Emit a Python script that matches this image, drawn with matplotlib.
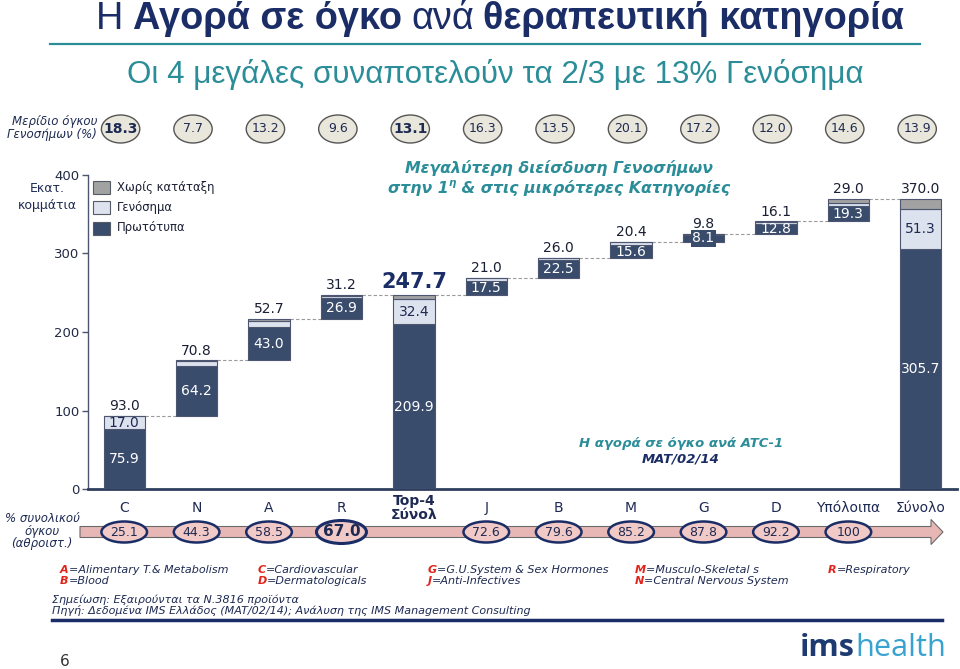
import matplotlib
matplotlib.use('Agg')
import matplotlib.pyplot as plt
from matplotlib.patches import Ellipse, Rectangle, FancyArrow
import matplotlib.transforms as mtransforms
import numpy as np

# ---------------- data ----------------
categories = ['C', 'N', 'A', 'R', 'Top-4\nΣύνολ', 'J', 'B', 'M', 'G', 'D', 'Υπόλοιπα', 'Σύνολο']
proto = [75.9, 64.2, 43.0, 26.9, 209.9, 17.5, 22.5, 15.6, 8.1, 12.8, 19.3, 305.7]
generic = [17.0, 5.5, 7.0, 3.0, 32.4, 3.4, 3.5, 4.1, 1.7, 1.9, 4.2, 51.3]
unclassified = [0.1, 1.1, 2.7, 1.3, 5.4, 0.1, 0.0, 0.7, 0.0, 1.4, 5.5, 13.0]
totals = [93.0, 70.8, 52.7, 31.2, 247.7, 21.0, 26.0, 20.4, 9.8, 16.1, 29.0, 370.0]
is_subtotal = [False, False, False, False, True, False, False, False, False, False, False, True]
generic_share = ['18.3', '7.7', '13.2', '9.6', '13.1', '16.3', '13.5', '20.1', '17.2', '12.0', '14.6', '13.9']
highlight_share = [True, False, False, False, True, False, False, False, False, False, False, False]
cumulative_pct = ['25.1', '44.3', '58.5', '67.0', None, '72.6', '79.6', '85.2', '87.8', '92.2', '100', None]
legend_labels = ['Χωρίς κατάταξη', 'Γενόσημα', 'Πρωτότυπα']
yticks = [0, 100, 200, 300, 400]

# ---------------- colours ----------------
NAVY = '#3a4c6c'
EDGE = '#4d5670'
LIGHT = '#dde3ee'
GRAY = '#a2a2a2'
TEXT = '#1e2a52'
TEAL = '#2a8d98'
TITLE = '#1b2d66'
PINK = '#e7b7b5'
PINK_E = '#f1c9c6'
BEIGE = '#e9e7dc'

plt.rcParams['font.family'] = ['DejaVu Sans']

fig = plt.figure(figsize=(9.6, 6.69), dpi=100)
fig.patch.set_facecolor('white')
ax = fig.add_axes([88 / 960, 1 - 489 / 669, (957 - 88) / 960, (489 - 175) / 669])

x = np.arange(len(categories))
w = 0.57

# waterfall bases
bases = []
running = 0.0
for t, sub in zip(totals, is_subtotal):
    if sub:
        bases.append(0.0)
    else:
        bases.append(running)
        running += t
bases = np.array(bases)
proto_a = np.array(proto)
gen_a = np.array(generic)
unc_a = np.array(unclassified)

ax.bar(x, proto_a, w, bottom=bases, color=NAVY, edgecolor=EDGE, linewidth=0.8, zorder=3)
ax.bar(x, gen_a, w, bottom=bases + proto_a, color=LIGHT, edgecolor=EDGE, linewidth=0.8, zorder=3)
ax.bar(x, unc_a, w, bottom=bases + proto_a + gen_a, color=GRAY, edgecolor=EDGE, linewidth=0.8, zorder=3)

tops = bases + np.array(totals)
for i in range(len(x) - 1):
    ax.plot([x[i] + w / 2, x[i + 1] - w / 2], [tops[i], tops[i]], ls=(0, (3, 2)),
            color='#9a9a9a', lw=0.8, zorder=2)

for i in range(len(x)):
    if is_subtotal[i] and i != len(x) - 1:
        ax.annotate(f'{totals[i]:.1f}', (x[i], tops[i]), xytext=(0, 2), textcoords='offset points',
                    ha='center', va='bottom', fontsize=15, fontweight='bold', color=TITLE, zorder=4)
    else:
        ax.annotate(f'{totals[i]:.1f}', (x[i], tops[i]), xytext=(0, 2), textcoords='offset points',
                    ha='center', va='bottom', fontsize=10, color='#1a1f33', zorder=4)
    box = dict(facecolor=NAVY, edgecolor='none', pad=1.0) if proto[i] < 12 else None
    ax.text(x[i], bases[i] + proto[i] / 2, f'{proto[i]:.1f}', ha='center', va='center',
            fontsize=10, color='white', zorder=4, bbox=box)
    if generic[i] >= 15:
        ax.text(x[i], bases[i] + proto[i] + generic[i] / 2, f'{generic[i]:.1f}', ha='center',
                va='center', fontsize=10, color=TEXT, zorder=4)

ax.set_xlim(-0.5, 11.5)
ax.set_ylim(0, 400)
ax.set_yticks(yticks)
ax.tick_params(axis='y', length=4, width=1, color=EDGE, labelsize=9.5, labelcolor='#222a44', pad=2)
ax.set_xticks(x, categories)
ax.tick_params(axis='x', length=0, labelsize=10, labelcolor=TEXT, pad=14)
for lab in ax.get_xticklabels():
    lab.set_va('center')
    if lab.get_text().startswith('Top-4'):
        lab.set_fontweight('bold')
        lab.set_linespacing(1.0)
for s in ['top', 'right']:
    ax.spines[s].set_visible(False)
ax.spines['left'].set_color(EDGE)
ax.spines['left'].set_linewidth(1)
ax.spines['bottom'].set_color('#2f3e5e')
ax.spines['bottom'].set_linewidth(2)

# ---------------- overlay (pixel coordinates) ----------------
ov = fig.add_axes([0, 0, 1, 1], zorder=5)
ov.set_xlim(0, 960)
ov.set_ylim(669, 0)
ov.axis('off')
bt = mtransforms.blended_transform_factory(ax.transData, ov.transData)
renderer = fig.canvas.get_renderer()


def measure(s, **kw):
    t = ov.text(0, 0, s, **kw)
    wd = t.get_window_extent(renderer).width
    t.remove()
    return wd


def pieces_line(y, pieces, x0=None, center=None, gap=0.0, va='center'):
    widths = [measure(s, **{k: v for k, v in kw.items() if k != 'dy'}) for s, kw in pieces]
    total = sum(widths) + gap * (len(pieces) - 1)
    xx = center - total / 2 if center is not None else x0
    for (s, kw), wd in zip(pieces, widths):
        kw = dict(kw)
        dy = kw.pop('dy', 0)
        ov.text(xx, y + dy, s, ha='left', va=va, **kw)
        xx += wd + gap


# Title (fit to measured width)
title_font = ['Liberation Sans Narrow', 'Liberation Sans']
tp = [('Η', {}), ('Αγορά σε όγκο', {'fontweight': 'bold'}), ('ανά', {}),
      ('θεραπευτική κατηγορία', {'fontweight': 'bold'})]
fs0 = 24
base_w = sum(measure(s, fontsize=fs0, family=title_font, **kw) for s, kw in tp) + 3 * 0.25 * fs0 * 1.389
fs = fs0 * 810 / base_w
pieces_line(19, [(s, dict(fontsize=fs, family=title_font, color=TITLE, **kw)) for s, kw in tp],
            center=500, gap=0.25 * fs * 1.389)
ov.plot([50, 920], [44, 44], color=TEAL, lw=1.6)

sub = 'Οι 4 μεγάλες συναποτελούν τα 2/3 με 13% Γενόσημα'
sw = measure(sub, fontsize=20, family='Liberation Sans')
ov.text(495, 75, sub, ha='center', va='center', fontsize=20 * 734 / sw, family='Liberation Sans',
        color=TEAL)

# Generic share ellipses row
ov.text(97, 128, 'Μερίδιο όγκου\nΓενοσήμων (%)', ha='right', va='center', fontsize=8.5,
        style='italic', color=TEXT, linespacing=1.0)
for i, s in enumerate(generic_share):
    ov.add_patch(Ellipse((x[i] - 0.05, 129), width=0.53, height=28, transform=bt,
                         facecolor=BEIGE, edgecolor='#555555', lw=1.0))
    ov.text(x[i] - 0.05, 129, s, transform=bt, ha='center', va='center',
            fontsize=10 if highlight_share[i] else 9,
            fontweight='bold' if highlight_share[i] else 'normal', color=TEXT)

# annotation inside plot
ann = dict(fontweight='bold', style='italic', color=TEAL)
ov.text(559, 168, 'Μεγαλύτερη διείσδυση Γενοσήμων', ha='center', va='center', fontsize=11.3, **ann)
pieces_line(188, [('στην 1', dict(fontsize=11.3, **ann)),
                  ('η', dict(fontsize=7.5, dy=-5, **ann)),
                  (' & στις μικρότερες Κατηγορίες', dict(fontsize=11.3, **ann))], center=559)

# Y label
ov.text(47, 197, 'Εκατ.\nκομμάτια', ha='center', va='center', fontsize=9, color=TEXT, linespacing=1.3)

# Legend
leg_cols = [GRAY, LIGHT, NAVY]
for k, (lab, col) in enumerate(zip(legend_labels, leg_cols)):
    yc = 187 + k * 20.5
    ov.add_patch(Rectangle((93, yc - 6.5), 17, 13, facecolor=col, edgecolor='#555a66', lw=0.8))
    ov.text(117, yc, lab, ha='left', va='center', fontsize=8.4, color='#1a1f33')

# ATC caption
ov.text(681, 443, 'Η αγορά σε όγκο ανά ATC-1', ha='center', va='center', fontsize=9.5,
        fontweight='bold', style='italic', color=TEAL)
ov.text(681, 459, 'MAT/02/14', ha='center', va='center', fontsize=9.5, fontweight='bold',
        style='italic', color=TITLE)

# Cumulative % arrow row
ov.text(42, 531, '% συνολικού\nόγκου\n(αθροιστ.)', ha='center', va='center', fontsize=8.5,
        style='italic', color=TEXT, linespacing=0.95)
ov.add_patch(FancyArrow(80, 532, 863, 0, width=11, head_width=25, head_length=12,
                        length_includes_head=True, facecolor=PINK, edgecolor='#6a6a6a', lw=0.8))
for i, s in enumerate(cumulative_pct):
    if s is None:
        continue
    big = s == '67.0'
    ov.add_patch(Ellipse((x[i], 532), width=0.69 if big else 0.63, height=23 if big else 21,
                         transform=bt, facecolor=PINK_E, edgecolor=TITLE, lw=2.2 if big else 1.8))
    ov.text(x[i], 532, s, transform=bt, ha='center', va='center', fontsize=11 if big else 9,
            fontweight='bold' if big else 'normal', color=TEXT)

# Footnotes
RED = '#e2231a'
fn_rows = [
    [(60, 'A', '=Alimentary T.& Metabolism'), (258, 'C', '=Cardiovascular'),
     (428, 'G', '=G.U.System & Sex Hormones'), (635, 'M', '=Musculo-Skeletal s'),
     (828, 'R', '=Respiratory')],
    [(60, 'B', '=Blood'), (258, 'D', '=Dermatologicals'), (428, 'J', '=Anti-Infectives'),
     (635, 'N', '=Central Nervous System')],
]
for r, row in enumerate(fn_rows):
    yy = 570 + r * 11.5
    for x0, letter, rest in row:
        pieces_line(yy, [(letter, dict(fontsize=8, fontweight='bold', style='italic', color=RED)),
                         (rest, dict(fontsize=8, style='italic', color=TEXT))], x0=x0)

ov.text(52, 600, 'Σημείωση: Εξαιρούνται τα N.3816 προϊόντα', ha='left', va='center', fontsize=8,
        style='italic', color=TEXT)
ov.text(52, 611, 'Πηγή: Δεδομένα IMS Ελλάδος (MAT/02/14); Ανάλυση της IMS Management Consulting',
        ha='left', va='center', fontsize=8, style='italic', color=TEXT)
ov.plot([52, 942], [620, 620], color=TITLE, lw=2.5)

# page number and logo
ov.text(65, 662, '6', ha='center', va='center', fontsize=11, color='#333333')
logo_font = ['Open Sans', 'DejaVu Sans']
lw1 = measure('ims', fontsize=20, fontweight='bold', family=logo_font)
lw2 = measure('health', fontsize=20, family=logo_font)
lfs = 20 * 145 / (lw1 + lw2)
pieces_line(648, [('ims', dict(fontsize=lfs, fontweight='bold', family=logo_font, color='#1d3b70')),
                  ('health', dict(fontsize=lfs, family=logo_font, color='#38a2d0'))], x0=800)

fig.savefig('out.png', dpi=100, facecolor='white')
